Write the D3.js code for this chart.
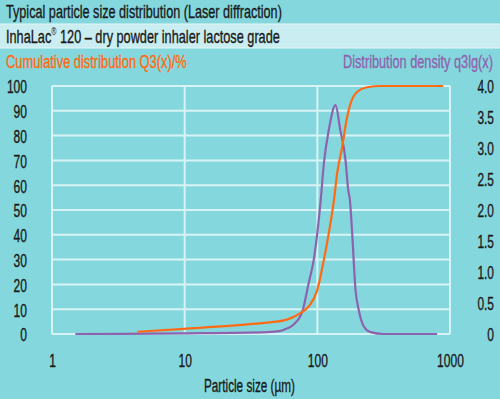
<!DOCTYPE html>
<html>
<head>
<meta charset="utf-8">
<script src="https://cdn.jsdelivr.net/npm/d3@7"></script>
<style>
  body { margin: 0; background: #84d8dd; }
  svg text { font-family: "Liberation Sans", Arial, sans-serif; }
</style>
</head>
<body>
<div id="chart"></div>
<script>
var svgWidth = 500;
var svgHeight = 399;

var margin = { top: 86, right: 50, bottom: 65, left: 52 };
var width = 450 - margin.left;
var height = 334 - margin.top;

// cumulative distribution Q3(x) in %, particle size in µm
var cumSize = [4.4, 9.9, 31, 44, 56, 63, 75, 86, 100, 112, 122, 133, 141, 154, 166, 178, 200, 237, 300, 890];
var cumValue = [0.9, 2.1, 4.0, 4.7, 5.5, 6.4, 8.5, 11.1, 17.8, 29.9, 40.7, 53.4, 64.8, 75.5, 86.3, 93, 97.7, 99.5, 100, 100];

// distribution density q3lg(x)
var denSize = [1.5, 10, 42, 53, 56, 66, 77, 86, 94, 100, 106, 112, 122, 137, 149, 163, 171, 176, 183, 194, 205, 224, 251, 316, 800];
var denValue = [0, 0.01, 0.03, 0.05, 0.07, 0.15, 0.36, 0.82, 1.2, 1.63, 2.16, 2.75, 3.29, 3.69, 3.29, 2.81, 2.32, 2.16, 1.63, 0.71, 0.39, 0.12, 0.03, 0, 0];

var xTicks = [1, 10, 100, 1000];
var leftTicks = d3.range(0, 101, 10);
var rightTicks = d3.range(0, 4.01, 0.5);

var svg = d3.select("#chart")
  .append("svg")
  .attr("width", svgWidth)
  .attr("height", svgHeight);

// condensed look: scale text horizontally to the width it has in the original
function fit(sel, target) {
  sel.each(function() {
    var t = d3.select(this);
    var w = typeof target === "function" ? target(t.text()) : target;
    var x = +t.attr("x") || 0;
    var k = w / this.getComputedTextLength();
    t.attr("x", 0).attr("transform", `translate(${x},0) scale(${k},1)`);
  });
}

function digitWidth(s) {
  var w = 0;
  for (var c of s) w += (c === "." ? 3.2 : 6.7);
  return w;
}

// a bit heavier strokes, like the original medium face
function heavy(sel, color) {
  sel.attr("fill", color).attr("stroke", color).attr("stroke-width", 0.35);
}

// header bands
svg.append("rect").attr("x", 0).attr("y", 0).attr("width", svgWidth).attr("height", svgHeight).attr("fill", "#84d8dd");
svg.append("rect").attr("x", 0).attr("y", 24).attr("width", svgWidth).attr("height", 24).attr("fill", "#c9edf0");
svg.append("line").attr("x1", 0).attr("x2", svgWidth).attr("y1", 24).attr("y2", 24).attr("stroke", "#e6f7f8").attr("stroke-width", 1);
svg.append("line").attr("x1", 0).attr("x2", svgWidth).attr("y1", 48).attr("y2", 48).attr("stroke", "#e6f7f8").attr("stroke-width", 1);

svg.append("text").attr("x", 6).attr("y", 18)
  .attr("font-size", 18).call(heavy, "#1a1a1a")
  .text("Typical particle size distribution (Laser diffraction)")
  .call(fit, 276);

var t2 = svg.append("text").attr("x", 6).attr("y", 43)
  .attr("font-size", 18).call(heavy, "#1a1a1a");
t2.append("tspan").text("InhaLac");
t2.append("tspan").attr("font-size", 10).attr("stroke-width", 0).attr("dy", -8).text("®");
t2.append("tspan").attr("dy", 8).text(" 120 – dry powder inhaler lactose grade");
t2.call(fit, 274);

svg.append("text").attr("x", 6).attr("y", 68)
  .attr("font-size", 18).call(heavy, "#ff6a13")
  .text("Cumulative distribution Q3(x)/%")
  .call(fit, 181);

svg.append("text").attr("x", 343).attr("y", 68)
  .attr("font-size", 18).call(heavy, "#8d63ad")
  .text("Distribution density q3lg(x)")
  .call(fit, 150);

var chartGroup = svg.append("g")
  .attr("transform", `translate(${margin.left}, ${margin.top})`);

var xLogScale = d3.scaleLog().domain([1, 1000]).range([0, width]);
var yLeftScale = d3.scaleLinear().domain([0, 100]).range([height, 0]);
var yRightScale = d3.scaleLinear().domain([0, 4]).range([height, 0]);

// grid
chartGroup.selectAll("line.hgrid")
  .data(leftTicks)
  .enter()
  .append("line")
  .attr("class", "hgrid")
  .attr("x1", 0).attr("x2", width)
  .attr("y1", d => yLeftScale(d)).attr("y2", d => yLeftScale(d))
  .attr("stroke", "#d8f3f5").attr("stroke-width", 2);

chartGroup.selectAll("line.vgrid")
  .data(xTicks)
  .enter()
  .append("line")
  .attr("class", "vgrid")
  .attr("x1", d => xLogScale(d)).attr("x2", d => xLogScale(d))
  .attr("y1", 0).attr("y2", height)
  .attr("stroke", "#d8f3f5").attr("stroke-width", 2);

// axes (labels only)
var bottomAxis = d3.axisBottom(xLogScale).tickValues(xTicks).tickFormat(d3.format("d")).tickSize(0).tickPadding(20);
var leftAxis = d3.axisLeft(yLeftScale).tickValues(leftTicks).tickSize(0).tickPadding(25);
var rightAxis = d3.axisRight(yRightScale).tickValues(rightTicks).tickFormat(d => d === 0 ? "0" : d3.format(".1f")(d)).tickSize(0).tickPadding(44);

function styleAxis(g) {
  g.select(".domain").remove();
  g.selectAll("text").attr("font-size", 18).call(heavy, "#1a1a1a")
    .attr("font-family", "'Liberation Sans', Arial, sans-serif");
}

chartGroup.append("g")
  .attr("transform", `translate(0, ${height})`)
  .call(bottomAxis)
  .call(styleAxis)
  .selectAll("text").call(fit, digitWidth);

chartGroup.append("g")
  .call(leftAxis)
  .call(styleAxis)
  .selectAll("text").attr("dy", "0.38em").call(fit, digitWidth);

chartGroup.append("g")
  .attr("transform", `translate(${width}, 0)`)
  .call(rightAxis)
  .call(styleAxis)
  .selectAll("text").attr("text-anchor", "end").attr("dy", "0.38em").call(fit, digitWidth);

// curves
var cumLine = d3.line()
  .x((d, i) => xLogScale(cumSize[i]))
  .y(d => yLeftScale(d))
  .curve(d3.curveMonotoneX);

var denLine = d3.line()
  .x((d, i) => xLogScale(denSize[i]))
  .y(d => yRightScale(d))
  .curve(d3.curveMonotoneX);

chartGroup.append("path")
  .datum(denValue)
  .attr("d", denLine)
  .attr("fill", "none")
  .attr("stroke", "#8d63ad")
  .attr("stroke-width", 2.2);

chartGroup.append("path")
  .datum(cumValue)
  .attr("d", cumLine)
  .attr("fill", "none")
  .attr("stroke", "#ff6a13")
  .attr("stroke-width", 2.2);

svg.append("text").attr("x", 204).attr("y", 392)
  .attr("font-size", 18).call(heavy, "#1a1a1a")
  .text("Particle size (µm)")
  .call(fit, 91);
</script>
</body>
</html>
